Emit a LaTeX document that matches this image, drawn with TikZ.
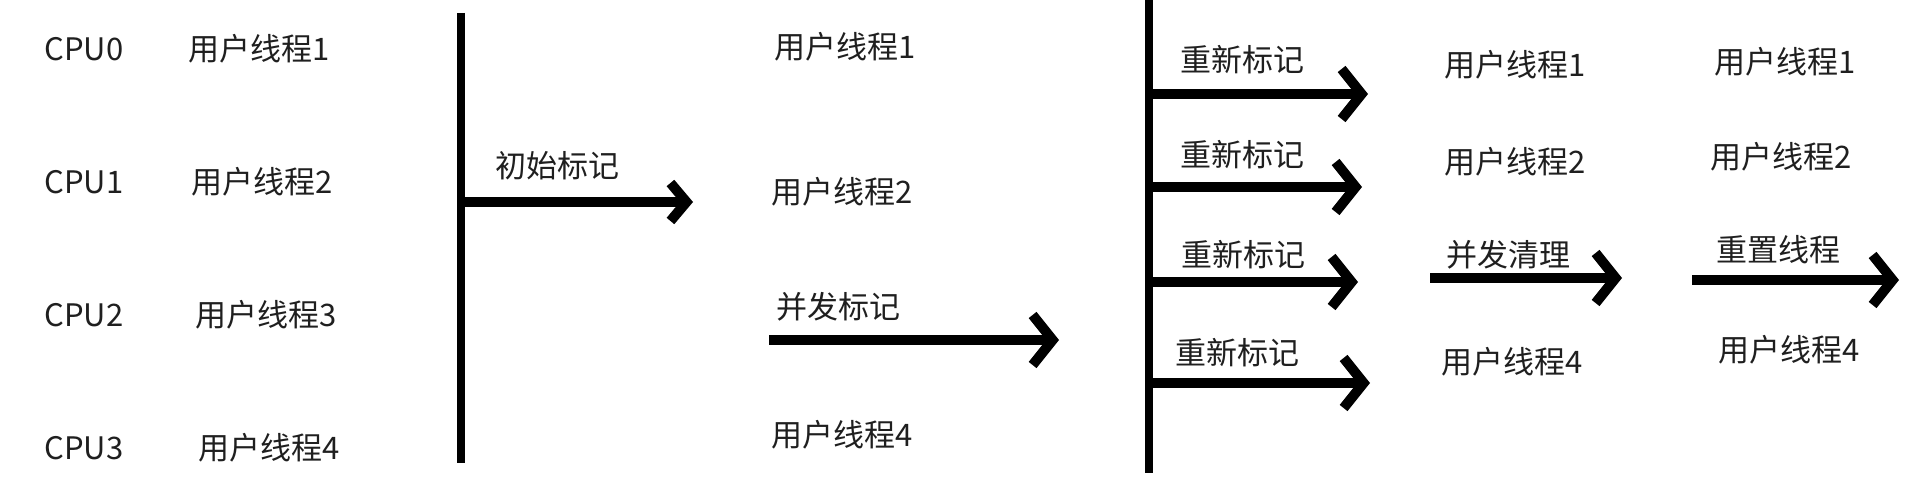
\documentclass[tikz,border=0pt]{standalone}
\usepackage{fontspec}
\usepackage{tikz}
\usetikzlibrary{arrows.meta}
\newfontfamily\cjk{Noto Sans CJK SC}
\colorlet{ink}{black!88}
\tikzset{
  phase label/.style={font=\cjk\fontsize{15.5}{18}\selectfont, text=ink, anchor=west, inner sep=0pt},
  phase bar/.style={line width=4pt},
  phase arrow/.style={line width=5pt, -{Straight Barb[length=10pt,width=25pt]}},
  small arrow/.style={phase arrow, -{Straight Barb[length=8pt,width=19pt]}}
}

\begin{document}
\begin{tikzpicture}[
  x=0.5pt, y=-0.5pt,
  every node/.style={phase label}
]
\useasboundingbox (0,0) rectangle (1918,496);
% CPUs and their threads
\foreach[evaluate=\k as \ty using {49+133*\k},evaluate=\k as \tx using {188+3.4*\k},evaluate=\k as \t using {int(\k+1)}] \k in {0,...,3} {
  \node (cpu\k) at (44,\ty) {CPU\k};
  \node (thread\k) at (\tx,\ty) {用户线程\t};
}
% initial mark
\coordinate (bar1top) at (461,13);
\coordinate (bar1bot) at (461,463);
\coordinate (initFrom) at (461,202);
\coordinate (initTo) at (693,202);
\draw[phase bar] (bar1top) -- (bar1bot);
\draw[small arrow] (initFrom) -- (initTo);
\node (init) at (495,166) {初始标记};
% concurrent mark
\node (markThread1) at (774,47) {用户线程1};
\node (markThread2) at (771,192) {用户线程2};
\node (markThread4) at (771,435) {用户线程4};
\node (concMark) at (776,307) {并发标记};
\coordinate (concFrom) at (769,340);
\coordinate (concTo) at (1059,340);
\draw[phase arrow] (concFrom) -- (concTo);
% remark
\coordinate (bar2top) at (1149,0);
\coordinate (bar2bot) at (1149,473);
\draw[phase bar] (bar2top) -- (bar2bot);
\foreach \k/\lx/\ly/\ay/\ex in {0/1180/60/94/1368, 1/1180/155/187/1362, 2/1181/255/282/1358, 3/1175/353/383/1370} {
  \node (remark\k) at (\lx,\ly) {重新标记};
  \coordinate (remarkFrom\k) at (1149,\ay);
  \coordinate (remarkTo\k) at (\ex,\ay);
  \draw[phase arrow] (remarkFrom\k) -- (remarkTo\k);
}
% concurrent sweep
\node (sweepThread1) at (1444,65) {用户线程1};
\node (sweepThread2) at (1444,162) {用户线程2};
\node (sweepThread4) at (1441,362) {用户线程4};
\node (sweep) at (1446,255) {并发清理};
\coordinate (sweepFrom) at (1430,278);
\coordinate (sweepTo) at (1622,278);
\draw[phase arrow] (sweepFrom) -- (sweepTo);
% reset
\node (resetThread1) at (1714,62) {用户线程1};
\node (resetThread2) at (1710,157) {用户线程2};
\node (resetThread4) at (1718,350) {用户线程4};
\node (reset) at (1716,250) {重置线程};
\coordinate (resetFrom) at (1692,280);
\coordinate (resetTo) at (1899,280);
\draw[phase arrow] (resetFrom) -- (resetTo);
\end{tikzpicture}
\end{document}
